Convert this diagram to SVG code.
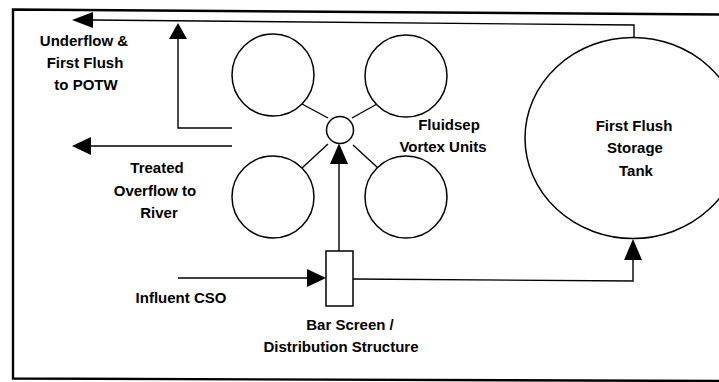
<svg xmlns="http://www.w3.org/2000/svg" width="719" height="382" viewBox="0 0 719 382">
<style>
text{font-family:"Liberation Sans",Arial,sans-serif;font-weight:bold;font-size:15px;fill:#000;text-anchor:middle}
.ln{fill:none;stroke:#000;stroke-width:1.4}
.unit{fill:#fff;stroke:#000;stroke-width:1.5}
.frame{fill:none;stroke:#000;stroke-width:2.4}
.hd{fill:#000;stroke:none}
</style>
<rect x="0" y="0" width="719" height="382" fill="#fff"/>
<path class="frame" d="M719,14.5 L13,9.5 L13,378.5 L719,381"/>
<g id="connectors">
<path class="ln" d="M92,20 L634,25 L634,38"/>
<path class="ln" d="M232,128 L178,128 L178,38"/>
<path class="ln" d="M232,146 L90,146"/>
<path class="ln" d="M178,278 L308,278"/>
<path class="ln" d="M339,251 L339,162"/>
<path class="ln" d="M353,279 L633,281 L633,258"/>
<path class="ln" d="M302,104 L328,118"/>
<path class="ln" d="M377,104 L352,118"/>
<path class="ln" d="M302,168 L328,144"/>
<path class="ln" d="M378,168 L353,145"/>
<polygon class="hd" points="72,20 93,12 93,28"/>
<polygon class="hd" points="72,146 91,137 91,155"/>
<polygon class="hd" points="178,23 169,39 187,39"/>
<polygon class="hd" points="339,143.5 330,164 348,164"/>
<polygon class="hd" points="326,278 307,269 307,287"/>
<polygon class="hd" points="633,239 624,260 642,260"/>
</g>
<g id="tank">
<ellipse class="unit" cx="633" cy="138" rx="108" ry="100.5"/>
<text x="634" y="131">First Flush</text>
<text x="635" y="153">Storage</text>
<text x="636" y="176">Tank</text>
</g>
<g id="vortex-units">
<circle class="unit" cx="273" cy="75" r="41"/>
<circle class="unit" cx="406" cy="76" r="41"/>
<circle class="unit" cx="273" cy="197" r="41"/>
<circle class="unit" cx="406" cy="197" r="41"/>
<circle class="unit" cx="340" cy="130" r="13.5"/>
<text x="449" y="130">Fluidsep</text>
<text x="443" y="152">Vortex Units</text>
</g>
<g id="bar-screen">
<rect class="unit" x="326" y="251" width="27" height="55"/>
<text x="350" y="330">Bar Screen /</text>
<text x="341" y="352">Distribution Structure</text>
</g>
<g id="label-underflow">
<text x="84" y="46">Underflow &amp;</text>
<text x="85" y="68">First Flush</text>
<text x="86" y="90">to POTW</text>
</g>
<g id="label-treated">
<text x="157" y="173">Treated</text>
<text x="155" y="196">Overflow to</text>
<text x="159" y="218">River</text>
</g>
<g id="label-influent">
<text x="181" y="303">Influent CSO</text>
</g>
</svg>
